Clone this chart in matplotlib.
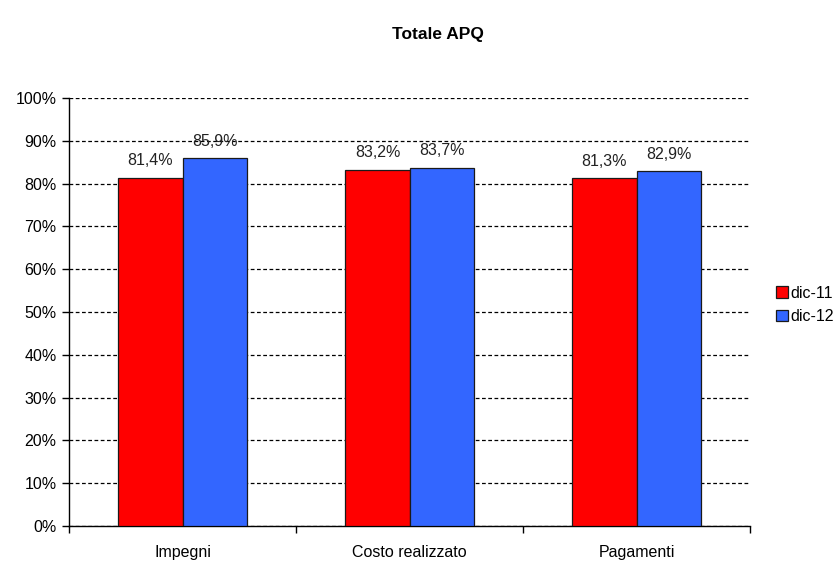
import matplotlib
matplotlib.use("Agg")
import matplotlib.pyplot as plt
import numpy as np

plt.rcParams['font.family'] = ['Liberation Sans Narrow', 'Liberation Sans', 'DejaVu Sans']

categories = ["Impegni", "Costo realizzato", "Pagamenti"]
series_names = ["dic-11", "dic-12"]
dic11 = [81.4, 83.2, 81.3]
dic12 = [85.9, 83.7, 82.9]
colors = ["#FF0000", "#3366FF"]
y_ticks = list(range(0, 101, 10))
title = "Totale APQ"

W, H = 835, 562
fig = plt.figure(figsize=(W / 100, H / 100), dpi=100)
ax = fig.add_axes([69 / W, 1 - 526 / H, (750 - 69) / W, (526 - 98) / H])

x = np.arange(len(categories))
bw = 0.282
for i, (vals, col) in enumerate(zip([dic11, dic12], colors)):
    pos = x + (i - 0.5) * bw
    ax.bar(pos, vals, width=bw, color=col, edgecolor="#1a1a1a", linewidth=0.9,
           label=series_names[i], zorder=3)
    for px, v in zip(pos, vals):
        ax.text(px, v + 2.2, f"{v:.1f}%".replace(".", ","), ha="center", va="bottom",
                fontsize=11.5, color="#222222", zorder=4)

ax.set_xlim(-0.5, len(categories) - 0.5)
ax.set_ylim(0, 100)
ax.set_yticks(y_ticks)
ax.set_yticklabels([f"{t}%" for t in y_ticks], fontsize=11.5)
ax.yaxis.grid(True, linestyle=(0, (3, 2)), color="black", linewidth=0.9, zorder=0)
ax.set_axisbelow(True)

ax.set_xticks(x)
ax.set_xticklabels(categories, fontsize=11.5)
ax.tick_params(axis="x", length=0, pad=14)
ax.set_xticks(np.arange(len(categories) + 1) - 0.5, minor=True)
ax.tick_params(axis="x", which="minor", length=5, direction="out", width=1)
ax.tick_params(axis="y", length=5, direction="out", width=1, pad=4)

for s in ["top", "right"]:
    ax.spines[s].set_visible(False)
for s in ["left", "bottom"]:
    ax.spines[s].set_linewidth(1.0)
    ax.spines[s].set_color("black")

fig.text(438 / W, 1 - 34 / H, title, ha="center", va="center", fontsize=12.5,
         fontweight="bold", family=['Liberation Sans', 'DejaVu Sans'])

leg = fig.legend(loc="center left", bbox_to_anchor=(770 / W, 1 - 305 / H), frameon=False,
                 fontsize=11.5, handlelength=0.7, handleheight=0.7, handletextpad=0.2,
                 labelspacing=0.55, borderaxespad=0)

fig.savefig("out.png", dpi=100, facecolor="white")
